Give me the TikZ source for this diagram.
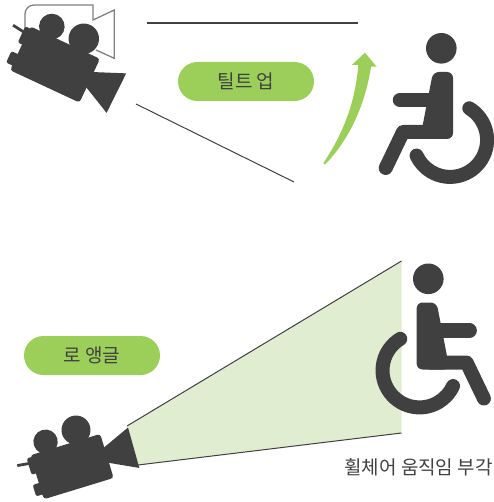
\documentclass[tikz,border=0pt]{standalone}
\usepackage{fontspec}
\setmainfont{Noto Sans CJK KR}
\definecolor{icon}{HTML}{404040}
\definecolor{leaf}{HTML}{9BCF5A}
\definecolor{pale}{HTML}{E0EDD0}
\tikzset{
	pics/camera/.style = {
		code = {
			\fill [icon] (14.5,-33.8) circle (14.5);
			\fill [icon] (-18,-31.5) circle (12.2);
			\fill [icon, rounded corners=3] (-36.5,-23) rectangle (36.5,23);
			\fill [icon, rounded corners=2] (-41,-21) rectangle (-30,-4);
			\fill [icon, rounded corners=2] (-43,6) rectangle (-30,18);
			\fill [icon] (34,-8) -- (65,-21) -- (64,21) -- (34,6) -- cycle;
			\draw [icon, line width=2.8] (-52,-17) -- (-36,-15);
		}
	},
	pics/wheelchair/.style = {
		code = {
			\fill [icon] (-8.7,-91.7) circle (15.3);
			\fill [icon, rounded corners=6] (-17,-68) -- (3,-68) -- (3,-1) -- (-30,-1) -- cycle;
			\draw [icon, line width=14.5, line cap=round] (-50,-40) -- (-20,-40);
			\draw [icon, line width=14, line cap=round, line join=round] (-64.3,28) -- (-47,-8) -- (-10,-8);
			\draw [icon, line width=14, line cap=round] (19.3,-31.7) arc [start angle=-58.7, end angle=155, radius=37];
		}
	}
}

\begin{document}
\begin{tikzpicture}[
x = 1pt,
y = -1pt,
every node/.style = {
	text = icon,
	font = \fontsize{19}{21}\selectfont
},
badge/.style = {
	fill = leaf,
	rounded corners = 19.5,
	minimum width = 136,
	minimum height = 39,
	inner sep = 0
},
thin rule/.style = {
	icon,
	line width = 1
},
thick rule/.style = {
	icon,
	line width = 1.6
}
]
\useasboundingbox (0,0) rectangle (493,502);

% top scene
\coordinate (top a) at (147,23);
\coordinate (top b) at (358,23);
\coordinate (low a) at (136,104);
\coordinate (low b) at (294,182);
\draw [thick rule] (top a) -- (top b);
\draw [thin rule] (low a) -- (low b);

\draw [gray, line width=1.3] (25,40) -- (25,14) arc [start angle=180, end angle=270, radius=9] -- (93,5) -- (93,20) -- (114.3,10) -- (114.3,58.3) -- (96,50);
\pic (camup) at (55,64.5) [rotate=-25, scale=1.05] {camera};

\node [badge] (tilt) at (246,81.5) {틸트 업};

\fill [leaf] (323.3,163.3) .. controls (342,135) and (355,105) .. (358.3,65)
	-- (351.7,65) -- (365,52.7) -- (376.7,66.7) -- (371,66.7)
	.. controls (366,100) and (352,137) .. (325,164.5) -- cycle;

\pic (chairup) at (450,140) {wheelchair};

% bottom scene
\coordinate (cone a) at (127,426);
\coordinate (cone b) at (401.5,261);
\coordinate (cone c) at (401.5,433);
\coordinate (cone d) at (138,465);
\fill [pale] (cone a) -- (cone b) -- (cone c) -- (cone d) -- cycle;
\draw [thin rule] (cone a) -- (cone b);
\draw [thin rule] (cone d) -- (cone c);

\pic (camlow) at (72,466.6) [rotate=17] {camera};
\pic (chairlow) at (419.6,370.5) [xscale=-1] {wheelchair};

\node [badge] (angle) at (92,355.5) {로 앵글};
\node (caption) at (418.5,467) {휠체어 움직임 부각};

\end{tikzpicture}
\end{document}
